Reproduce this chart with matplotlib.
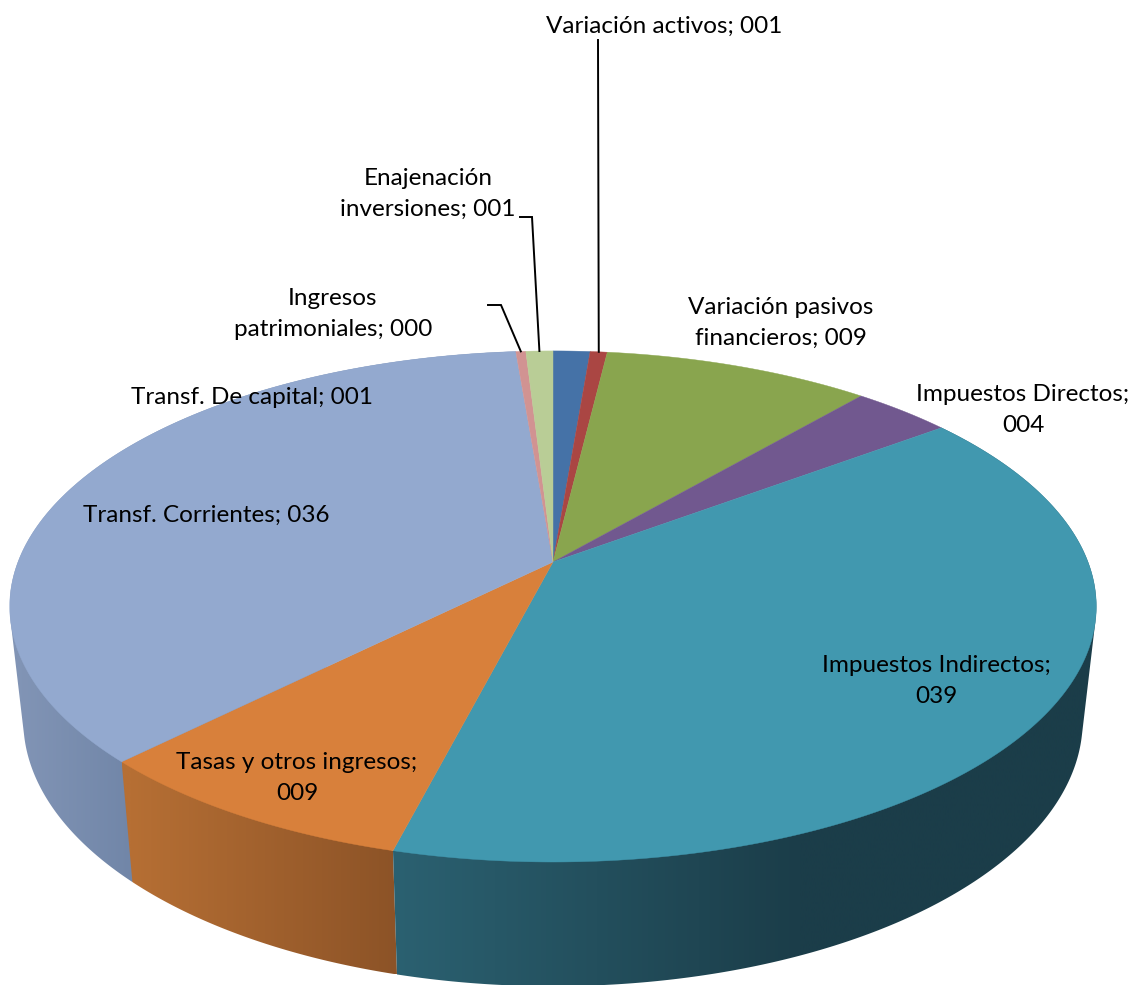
import numpy as np
import matplotlib
matplotlib.use('Agg')
import matplotlib.pyplot as plt
from matplotlib.patches import Polygon
from matplotlib.colors import to_rgb

# clockwise from 12 o'clock
categorias = ['Transf. De capital', 'Variación activos', 'Variación pasivos financieros',
              'Impuestos Directos', 'Impuestos Indirectos', 'Tasas y otros ingresos',
              'Transf. Corrientes', 'Ingresos patrimoniales', 'Enajenación inversiones']
valores = [1.3, 0.6, 9.4, 3.5, 39.2, 8.5, 36.2, 0.35, 0.95]
etiquetas = ['001', '001', '009', '004', '039', '009', '036', '000', '001']
colores = ['#4572A7', '#AA4643', '#89A54E', '#71588F', '#4198AF',
           '#D8803B', '#93A9CF', '#D19392', '#B9CD96']

plt.rcParams['font.family'] = ['Lato', 'DejaVu Sans']
FS = 17.5

# perspective of the disc, in pixels of the picture
APEX = (553, 562)
A, B, K = 535.0, 247.8, 0.174
CY = 606.0          # centre of the visible top ellipse
ESC_X, ESC_Y, CY_BASE = 0.975, 1.04, 720.0


def borde(ang):
    u, v = np.sin(ang), np.cos(ang)
    w = 1 + K * v
    return APEX[0] + A * u / w, APEX[1] - B * v / w


def base(x, y):
    return APEX[0] + (x - APEX[0]) * ESC_X, CY_BASE + (y - CY) * ESC_Y


def casco(puntos):
    # convex hull, the wall silhouette runs along the tangent of both rims
    pts = sorted(set(map(tuple, puntos)))

    def media(seq):
        h = []
        for p in seq:
            while len(h) > 1 and (h[-1][0] - h[-2][0]) * (p[1] - h[-2][1]) - (h[-1][1] - h[-2][1]) * (p[0] - h[-2][0]) <= 0:
                h.pop()
            h.append(p)
        return h[:-1]
    return np.array(media(pts) + media(pts[::-1]))


fig = plt.figure(figsize=(11.42, 9.85), dpi=100)
ax = fig.add_axes([0, 0, 1, 1])

cortes = np.cumsum([0] + valores) / sum(valores) * 2 * np.pi

# side wall, x gradient per slice (colour left, colour right, x range)
# drawn left to right, each hull overlaps the one before it
paredes = {6: ('#8295B6', '#7186A8', 13, 131),
           5: ('#B66F34', '#8C5327', 131, 397),
           4: ('#2B6171', '#1B3D49', 393, 800)}
for i, (c0, c1, x0, x1) in paredes.items():
    ang = np.linspace(cortes[i], cortes[i + 1], 300)
    xs, ys = borde(ang)
    xb, yb = base(xs, ys)
    contorno = casco(np.c_[np.r_[xs, xb], np.r_[ys, yb]])
    xmin, xmax = contorno[:, 0].min(), contorno[:, 0].max()
    ymin, ymax = contorno[:, 1].min(), contorno[:, 1].max()
    t = np.clip((np.linspace(xmin, xmax, 400) - x0) / (x1 - x0), 0, 1)[None, :, None]
    img = (1 - t) * np.array(to_rgb(c0)) + t * np.array(to_rgb(c1))
    im = ax.imshow(img, extent=(xmin, xmax, ymax, ymin), aspect='auto', interpolation='bilinear', zorder=2)
    im.set_clip_path(Polygon(contorno, closed=True, transform=ax.transData))

ax.set_xlim(0, 1142)
ax.set_ylim(985, 0)
ax.axis('off')

# top of the pie
for i, col in enumerate(colores):
    ang = np.linspace(cortes[i], cortes[i + 1], max(int(valores[i] * 12), 6))
    xs, ys = borde(ang)
    ax.fill(np.r_[APEX[0], xs], np.r_[APEX[1], ys], color=col, lw=0.3, zorder=3)

# leader lines
medio = (cortes[:-1] + cortes[1:]) / 2
lideres = {1: [(598, 40)], 8: [(520, 217), (532, 217)], 7: [(488, 305), (501, 305)]}
for i, pts in lideres.items():
    xe, ye = borde(medio[i])
    ax.plot([p[0] for p in pts] + [xe], [p[1] for p in pts] + [ye], color='black', lw=1.4, zorder=4,
            solid_joinstyle='miter')

# data labels
textos = ['Transf. De capital; ' + etiquetas[0],
          'Variación activos; ' + etiquetas[1],
          'Variación pasivos\nfinancieros; ' + etiquetas[2],
          'Impuestos Directos;\n' + etiquetas[3],
          'Impuestos Indirectos;\n' + etiquetas[4],
          'Tasas y otros ingresos;\n' + etiquetas[5],
          'Transf. Corrientes; ' + etiquetas[6],
          'Ingresos\npatrimoniales; ' + etiquetas[7],
          'Enajenación\ninversiones; ' + etiquetas[8]]
pos_texto = [(252, 397), (664, 26), (781, 323), (1023, 410), (936, 681),
             (297, 778), (206, 515), (333, 314), (428, 194)]
for s, (x, y) in zip(textos, pos_texto):
    ax.text(x, y, s, ha='center', va='center', fontsize=FS, color='black', linespacing=1.57, zorder=5)

fig.savefig('out.png', dpi=100, facecolor='white')
